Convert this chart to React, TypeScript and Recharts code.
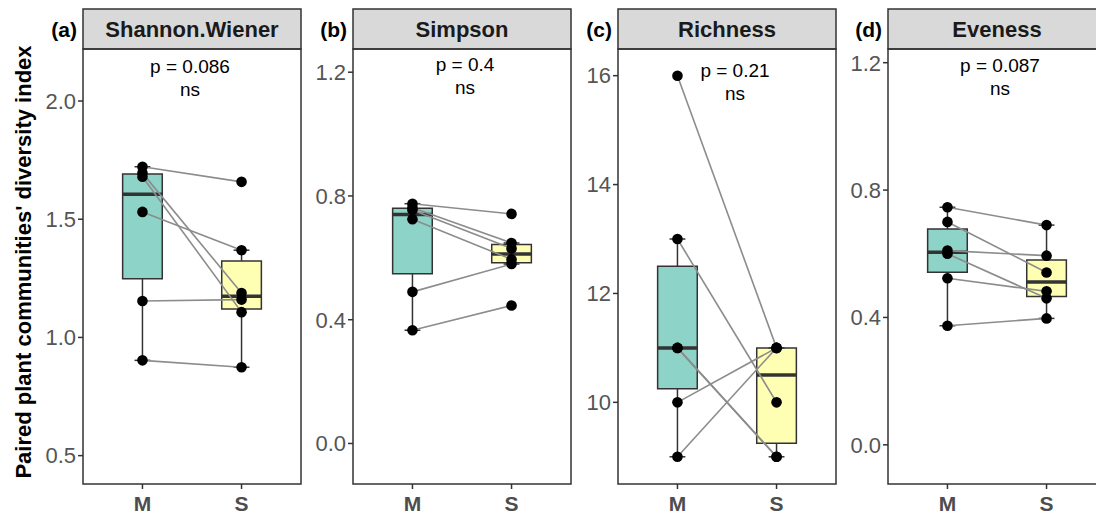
import {
  ComposedChart,
  XAxis,
  YAxis,
  Line,
  Scatter,
  ReferenceArea,
  ReferenceLine,
} from "recharts";

// paired samples: index i in M goes with index i in S
const groups = ["M", "S"];
const panelNames = ["Shannon.Wiener", "Simpson", "Richness", "Eveness"];
const panelTags = ["(a)", "(b)", "(c)", "(d)"];
const pValues = ["p = 0.086", "p = 0.4", "p = 0.21", "p = 0.087"];

const shannonM = [1.722, 1.695, 1.68, 1.531, 1.154, 0.903];
const shannonS = [1.658, 1.188, 1.107, 1.369, 1.16, 0.874];

const simpsonM = [0.775, 0.762, 0.755, 0.725, 0.49, 0.366];
const simpsonS = [0.742, 0.648, 0.63, 0.595, 0.58, 0.446];

const richnessM = [16, 13, 11, 11, 10, 9];
const richnessS = [11, 10, 9, 9, 11, 11];

const evenessM = [0.746, 0.7, 0.61, 0.6, 0.523, 0.374];
const evenessS = [0.69, 0.541, 0.594, 0.46, 0.482, 0.397];

const yTicks = [
  [0.5, 1.0, 1.5, 2.0],
  [0.0, 0.4, 0.8, 1.2],
  [10, 12, 14, 16],
  [0.0, 0.4, 0.8, 1.2],
];

const PANELS = [
  { m: shannonM, s: shannonS, domain: [0.38, 2.22], digits: 1, left: 83, pX: 190, pY: 73 },
  { m: simpsonM, s: simpsonS, domain: [-0.131, 1.275], digits: 1, left: 353, pX: 465, pY: 71 },
  { m: richnessM, s: richnessS, domain: [8.5, 16.49], digits: 0, left: 618, pX: 735, pY: 77 },
  { m: evenessM, s: evenessS, domain: [-0.123, 1.243], digits: 1, left: 888, pX: 1000, pY: 72 },
];

const FILLS = ["#8DD3C7", "#FFFFB3"];
const DARK = "#333333";
const PLOT_TOP = 49;
const PLOT_H = 435;
const PLOT_W = 218;
const YW = 60;
const XH = 40;
const FONT = "'Liberation Sans', Arial, sans-serif";

// R type-7 quantile
function quantile(sorted: number[], p: number) {
  const pos = (sorted.length - 1) * p;
  const lo = Math.floor(pos);
  const hi = Math.ceil(pos);
  return sorted[lo] + (sorted[hi] - sorted[lo]) * (pos - lo);
}

function boxStats(vals: number[]) {
  const v = [...vals].sort((a, b) => a - b);
  const q1 = quantile(v, 0.25);
  const med = quantile(v, 0.5);
  const q3 = quantile(v, 0.75);
  const iqr = q3 - q1;
  const lowW = Math.min(...v.filter((x) => x >= q1 - 1.5 * iqr));
  const highW = Math.max(...v.filter((x) => x <= q3 + 1.5 * iqr));
  return { q1, med, q3, lowW, highW };
}

function Box({ vals, x, fill }: { vals: number[]; x: number; fill: string }) {
  const b = boxStats(vals);
  const hw = 0.2;
  const cw = 0.08;
  return [
    <ReferenceLine key="wu" segment={[{ x, y: b.q3 }, { x, y: b.highW }]} stroke={DARK} strokeWidth={1.5} />,
    <ReferenceLine key="wl" segment={[{ x, y: b.q1 }, { x, y: b.lowW }]} stroke={DARK} strokeWidth={1.5} />,
    <ReferenceLine key="cu" segment={[{ x: x - cw, y: b.highW }, { x: x + cw, y: b.highW }]} stroke={DARK} strokeWidth={1.5} />,
    <ReferenceLine key="cl" segment={[{ x: x - cw, y: b.lowW }, { x: x + cw, y: b.lowW }]} stroke={DARK} strokeWidth={1.5} />,
    <ReferenceArea key="box" x1={x - hw} x2={x + hw} y1={b.q1} y2={b.q3} fill={fill} fillOpacity={1} stroke={DARK} strokeWidth={1.5} />,
    <ReferenceLine key="med" segment={[{ x: x - hw, y: b.med }, { x: x + hw, y: b.med }]} stroke={DARK} strokeWidth={3.5} />,
  ];
}

function Panel({ idx }: { idx: number }) {
  const p = PANELS[idx];
  const points = [
    ...p.m.map((y) => ({ x: 1, y })),
    ...p.s.map((y) => ({ x: 2, y })),
  ];
  return (
    <div style={{ position: "absolute", left: p.left - YW, top: PLOT_TOP }}>
      <ComposedChart
        width={YW + PLOT_W}
        height={PLOT_H + XH}
        margin={{ top: 0, right: 0, bottom: 0, left: 0 }}
      >
        <XAxis
          type="number"
          dataKey="x"
          domain={[0.4, 2.6]}
          ticks={[1, 2]}
          tickFormatter={(v: number) => groups[v - 1]}
          allowDataOverflow
          axisLine={false}
          tickLine={{ stroke: DARK, strokeWidth: 1.5 }}
          tickSize={5}
          tickMargin={7}
          height={XH}
          tick={{ fill: "#4D4D4D", fontSize: 21, fontWeight: 700, fontFamily: FONT }}
        />
        <YAxis
          type="number"
          dataKey="y"
          domain={p.domain}
          ticks={yTicks[idx]}
          tickFormatter={(v: number) => v.toFixed(p.digits)}
          allowDataOverflow
          axisLine={false}
          tickLine={{ stroke: DARK, strokeWidth: 1.5 }}
          tickSize={5}
          tickMargin={2}
          width={YW}
          tick={{ fill: "#555555", fontSize: 22, fontFamily: FONT }}
        />
        {Box({ vals: p.m, x: 1, fill: FILLS[0] })}
        {Box({ vals: p.s, x: 2, fill: FILLS[1] })}
        {p.m.map((y, i) => (
          <Line
            key={`pair-${i}`}
            data={[{ x: 1, y }, { x: 2, y: p.s[i] }]}
            dataKey="y"
            type="linear"
            stroke="#8C8C8C"
            strokeWidth={1.6}
            dot={false}
            activeDot={false}
            isAnimationActive={false}
          />
        ))}
        <Scatter
          data={points}
          dataKey="y"
          isAnimationActive={false}
          shape={(s: any) => <circle cx={s.cx} cy={s.cy} r={5.3} fill="#000" />}
        />
      </ComposedChart>
    </div>
  );
}

export default function App() {
  return (
    <div style={{ position: "absolute", left: 0, top: 0, width: 1096, height: 518, background: "#fff", overflow: "hidden" }}>
      {PANELS.map((_, i) => (
        <Panel key={i} idx={i} />
      ))}
      <svg
        width={1096}
        height={518}
        style={{ position: "absolute", left: 0, top: 0, pointerEvents: "none" }}
        fontFamily={FONT}
      >
        {PANELS.map((p, i) => (
          <g key={i}>
            <rect x={p.left} y={9} width={PLOT_W} height={PLOT_TOP - 9} fill="#D9D9D9" stroke={DARK} strokeWidth={1.5} />
            <rect x={p.left} y={PLOT_TOP} width={PLOT_W} height={PLOT_H} fill="none" stroke={DARK} strokeWidth={1.5} />
            <text x={p.left + PLOT_W / 2} y={37} textAnchor="middle" fontSize={22} fontWeight={700} fill="#1A1A1A">
              {panelNames[i]}
            </text>
            <text x={p.left - 6} y={37} textAnchor="end" fontSize={21} fontWeight={700} fill="#000">
              {panelTags[i]}
            </text>
            <text x={p.pX} y={p.pY} textAnchor="middle" fontSize={19} fill="#000">
              {pValues[i]}
            </text>
            <text x={p.pX} y={p.pY + 23} textAnchor="middle" fontSize={19} fill="#000">
              ns
            </text>
          </g>
        ))}
        <text
          transform="translate(31, 262) rotate(-90)"
          textAnchor="middle"
          fontSize={22}
          fontWeight={700}
          fill="#000"
        >
          Paired plant communities' diversity index
        </text>
      </svg>
    </div>
  );
}
